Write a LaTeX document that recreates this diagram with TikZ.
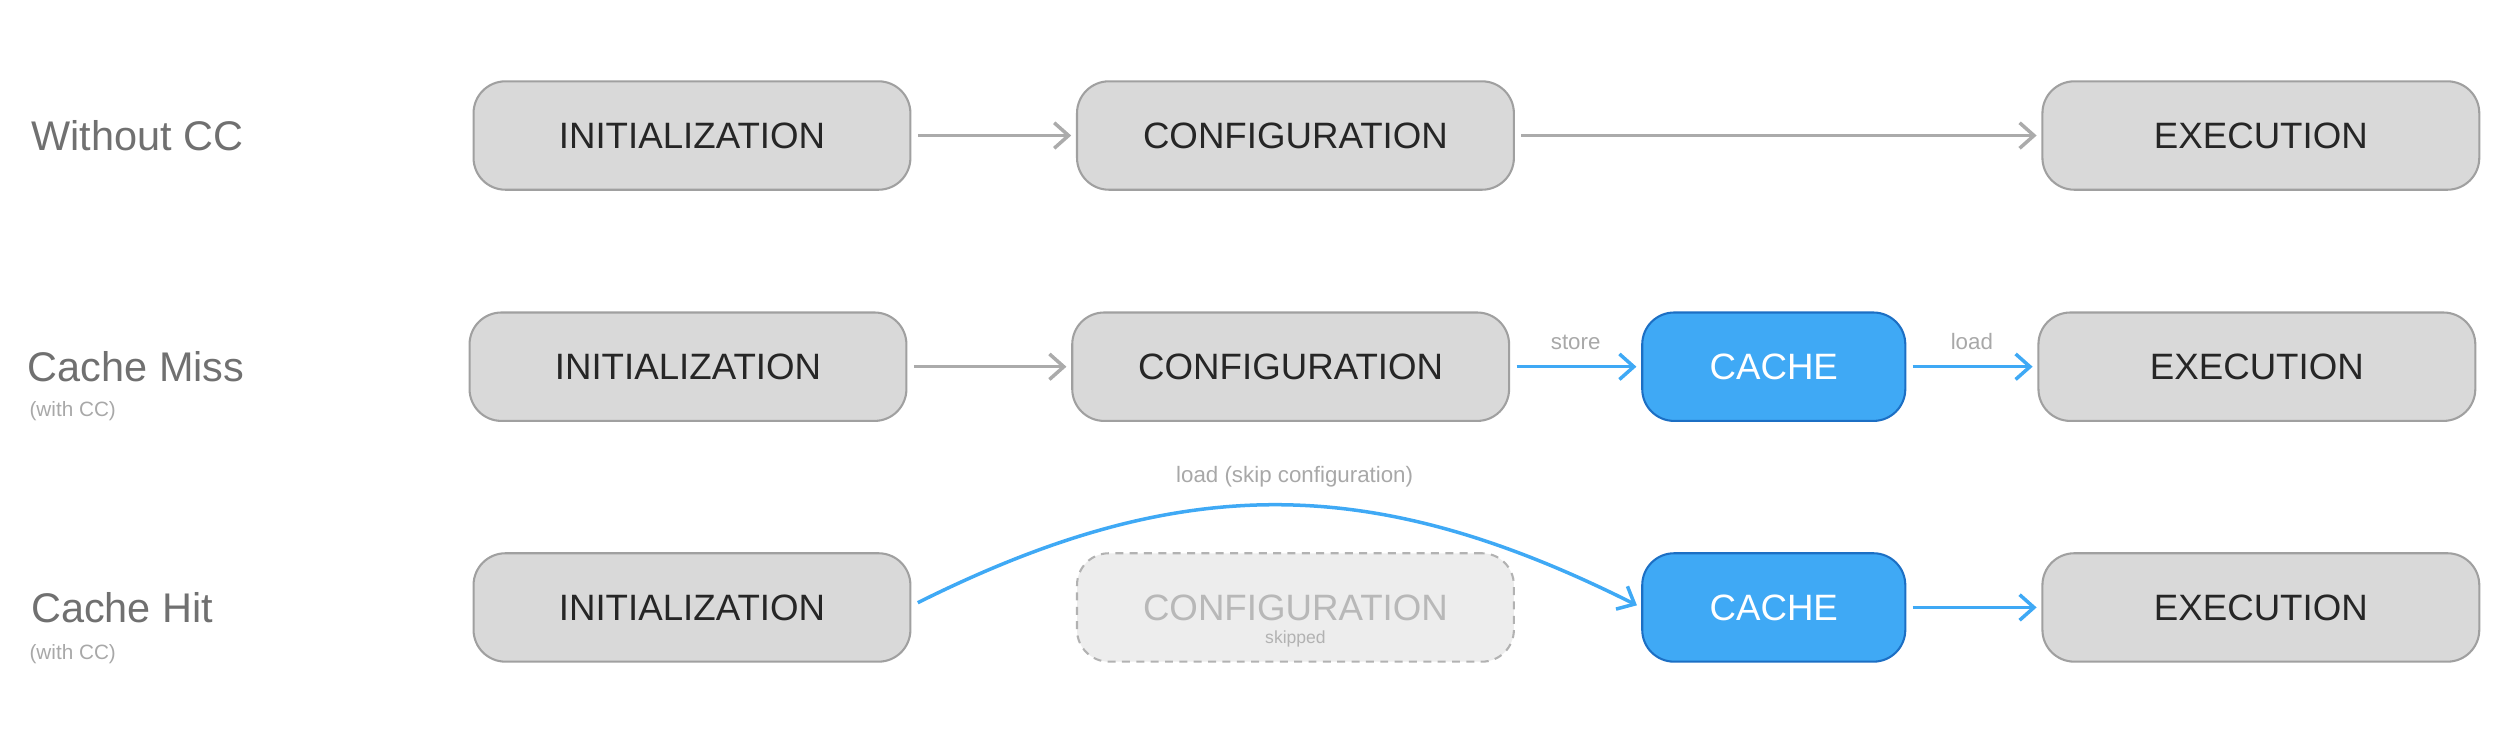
\documentclass[tikz,border=0pt]{standalone}
\usepackage{fontspec}
\setmainfont{Liberation Sans}
\usetikzlibrary{arrows.meta}
\definecolor{boxfill}{HTML}{D9D9D9}
\definecolor{boxdraw}{HTML}{A0A0A0}
\definecolor{cachefill}{HTML}{3FA9F5}
\definecolor{cachedraw}{HTML}{1C6FC4}
\definecolor{garrow}{HTML}{ABABAB}
\definecolor{barrow}{HTML}{3FA9F5}
\definecolor{lbl}{HTML}{707070}
\definecolor{small}{HTML}{A8A8A8}
\begin{document}
\begin{tikzpicture}[x=1pt,y=-1pt,
 box/.style={draw=boxdraw,line width=1.3pt,fill=boxfill,rounded corners=20pt,minimum height=68pt,inner sep=0pt,font=\fontsize{23}{26}\selectfont,text=black!85},
 wide/.style={box,minimum width=274pt},
 cache/.style={box,fill=cachefill,draw=cachedraw,text=white,minimum width=165pt},
 skip/.style={box,fill=black!7,draw=black!30,dash pattern=on 5pt off 4pt,text=black!28,minimum width=274pt},
 ga/.style={draw=garrow,line width=2.2pt,shorten <=4pt,shorten >=3pt,-{Straight Barb[length=9pt,width=16pt]}},
 ba/.style={draw=barrow,line width=2.2pt,shorten <=4pt,shorten >=3pt,-{Straight Barb[length=9pt,width=16pt]}},
 rowlbl/.style={anchor=west,text=lbl,font=\fontsize{26}{30}\selectfont},
 sub/.style={anchor=west,text=small,font=\fontsize{13}{15}\selectfont},
 elbl/.style={text=small,font=\fontsize{14}{16}\selectfont}]
\useasboundingbox (0,0) rectangle (1568,468);
% labels
\node[rowlbl] (l1) at (16,85) {Without CC};
\node[rowlbl] (l2) at (14,230) {Cache Miss};
\node[sub] (s2) at (15,258) {(with CC)};
\node[rowlbl] (l3) at (16,381) {Cache Hit};
\node[sub] (s3) at (15,410) {(with CC)};
% row 1
\node[wide] (i1) at (434,85) {INITIALIZATION};
\node[wide] (c1) at (812.5,85) {CONFIGURATION};
\node[wide] (e1) at (1418,85) {EXECUTION};
\draw[ga] (i1) -- (c1);
\draw[ga] (c1) -- (e1);
% row 2
\node[wide] (i2) at (431.5,230) {INITIALIZATION};
\node[wide] (c2) at (809.5,230) {CONFIGURATION};
\node[cache] (k2) at (1112.5,230) {CACHE};
\node[wide] (e2) at (1415.5,230) {EXECUTION};
\draw[ga] (i2) -- (c2);
\draw[ba] (c2) -- node[elbl,above=6pt]{store} (k2);
\draw[ba] (k2) -- node[elbl,above=6pt]{load} (e2);
% row 3
\node[wide] (i3) at (434,381) {INITIALIZATION};
\node[skip] (c3) at (812.5,381) {};
\node[text=black!28,font=\fontsize{23}{26}\selectfont] (c3t) at (812.5,381) {CONFIGURATION};
\node[text=black!30,font=\fontsize{11}{13}\selectfont] (c3s) at (812.5,401) {skipped};
\node[cache] (k3) at (1112.5,381) {CACHE};
\node[wide] (e3) at (1418,381) {EXECUTION};
\draw[ba,shorten <=0pt] (i3.east)+(4,-3) coordinate (p0) .. controls (740,296) and (860,296) .. (k3.west);
\node[elbl] (ll) at (812,299) {load (skip configuration)};
\draw[ba] (k3) -- (e3);
\end{tikzpicture}
\end{document}
